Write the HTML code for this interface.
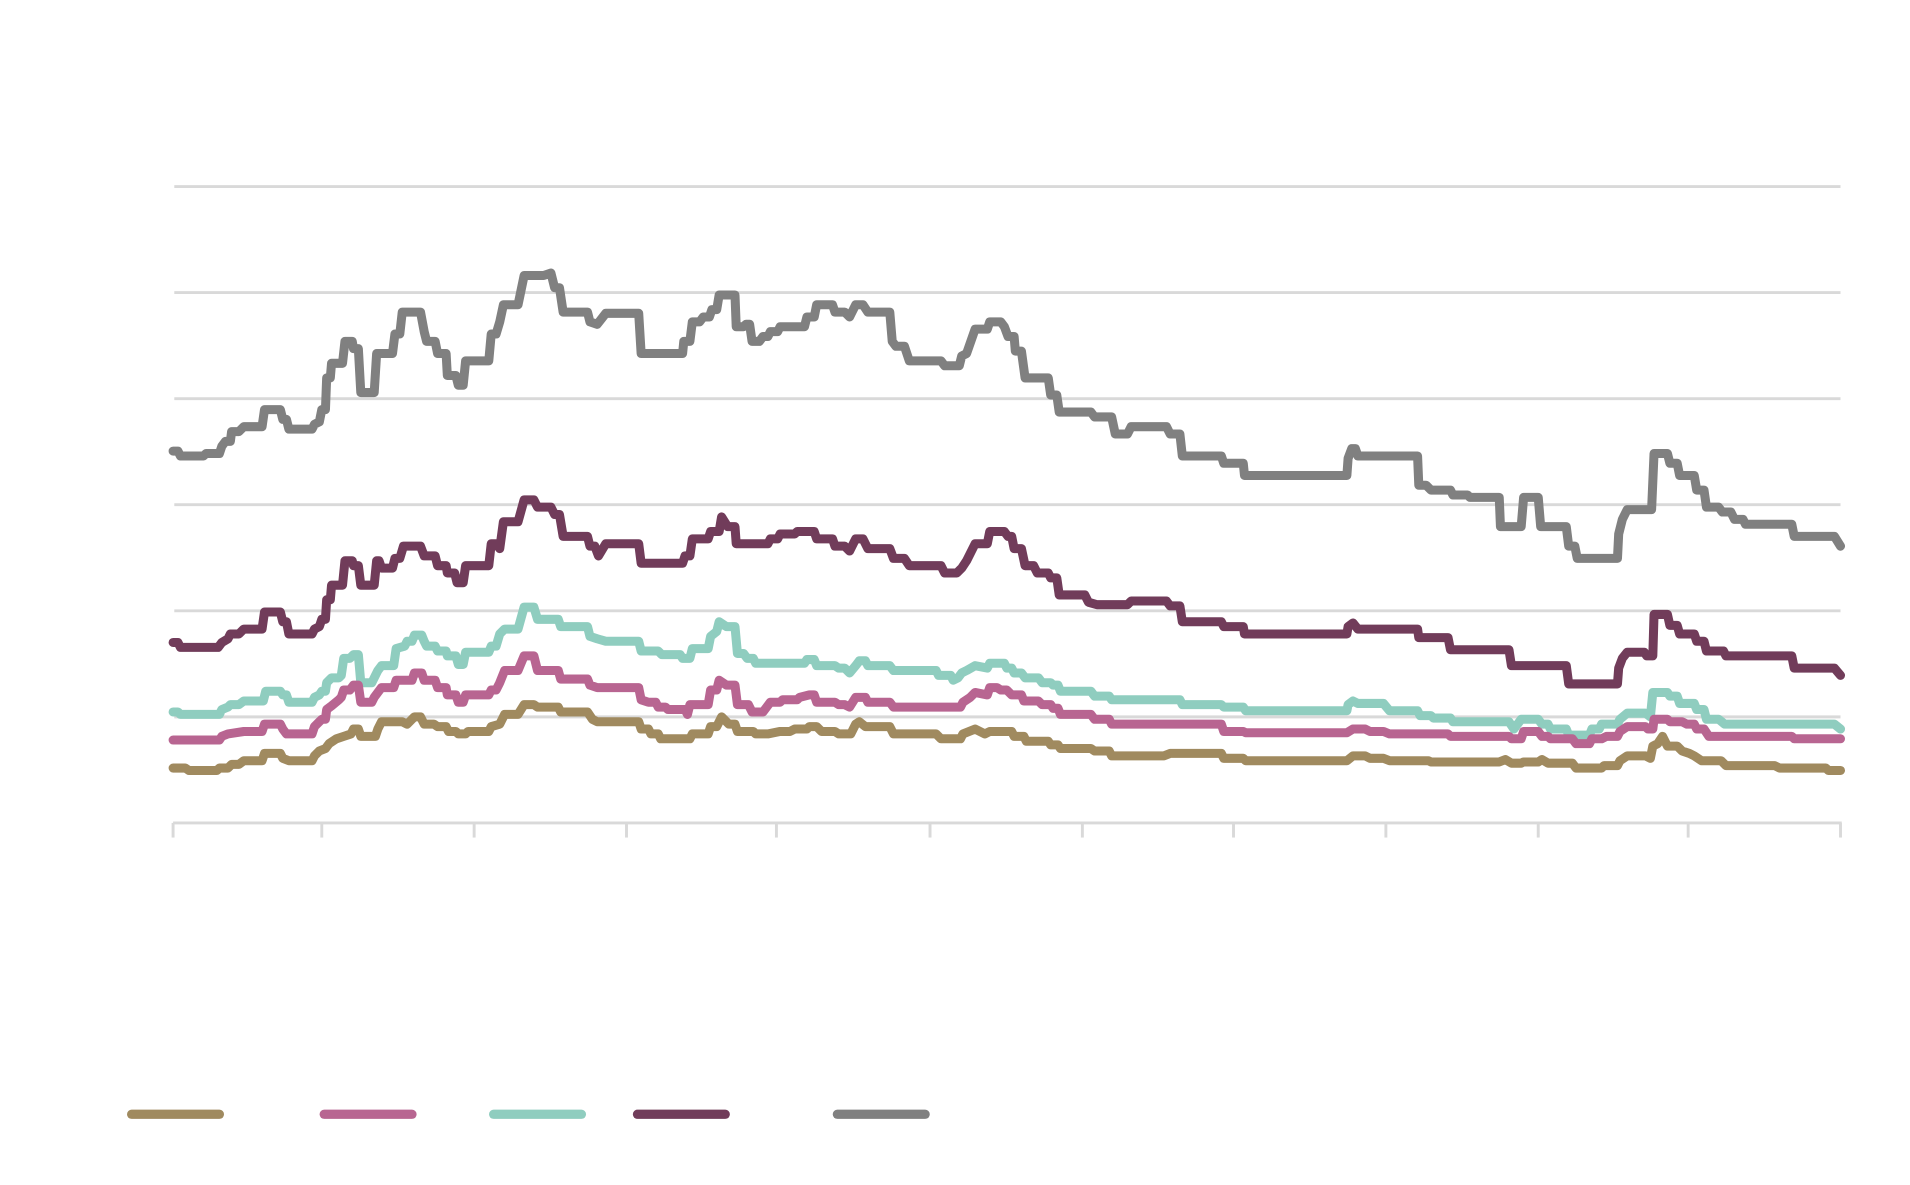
<!DOCTYPE html>
<html><head><meta charset="utf-8"><style>
html,body{margin:0;padding:0;background:#fff;width:1910px;height:1185px;overflow:hidden}
svg{display:block}
.s{fill:none;stroke-width:7.4;stroke-linejoin:round;stroke-linecap:round}
</style></head><body>
<svg width="1910" height="1185" viewBox="0 0 1567 972" preserveAspectRatio="none">
<g stroke="#d9d9d9" stroke-width="2.4">
<line x1="143" y1="153" x2="1510" y2="153"/>
<line x1="143" y1="240" x2="1510" y2="240"/>
<line x1="143" y1="327" x2="1510" y2="327"/>
<line x1="143" y1="414" x2="1510" y2="414"/>
<line x1="143" y1="501" x2="1510" y2="501"/>
<line x1="143" y1="588" x2="1510" y2="588"/>
<line x1="142" y1="675" x2="1511" y2="675"/>
<line x1="142" y1="675" x2="142" y2="687"/><line x1="264" y1="675" x2="264" y2="687"/><line x1="389" y1="675" x2="389" y2="687"/><line x1="514" y1="675" x2="514" y2="687"/><line x1="637" y1="675" x2="637" y2="687"/><line x1="763" y1="675" x2="763" y2="687"/><line x1="888" y1="675" x2="888" y2="687"/><line x1="1012" y1="675" x2="1012" y2="687"/><line x1="1137" y1="675" x2="1137" y2="687"/><line x1="1262" y1="675" x2="1262" y2="687"/><line x1="1385" y1="675" x2="1385" y2="687"/><line x1="1510" y1="675" x2="1510" y2="687"/>
</g>
<polyline class="s" stroke="#808080" points="142,370 146,370 148,374 167,374 169,372 180,372 182,366 185,362 189,362 190,354 196,354 200,350 215,350 217,336 230,336 232,344 235,344 237,352 256,352 258,348 262,346 264,336 267,336 268,310 271,310 272,298 281,298 283,280 289,280 290,286 294,286 296,322 307,322 309,290 322,290 324,274 328,274 330,256 345,256 348,272 350,280 357,280 359,290 366,290 367,308 374,308 376,316 380,316 382,296 401,296 403,274 407,274 410,264 413,250 425,250 430,226 446,226 452,224 455,236 459,236 462,256 482,256 484,264 490,266 497,257 524,257 526,290 560,290 561,280 566,280 568,264 574,264 577,260 582,260 584,254 588,254 590,242 603,242 604,268 610,268 612,266 615,266 617,280 623,280 626,276 630,276 632,272 638,272 640,268 660,268 662,260 668,260 670,250 683,250 685,256 693,256 697,260 702,250 708,250 712,256 730,256 732,280 735,284 742,284 746,296 772,296 775,300 787,300 789,292 793,290 800,270 810,270 812,264 821,264 824,268 827,276 832,276 833,288 838,288 841,310 860,310 862,324 867,324 869,338 895,338 898,342 912,342 915,356 925,356 928,350 957,350 960,356 968,356 970,374 1002,374 1004,380 1020,380 1021,390 1105,390 1106,376 1109,368 1112,368 1114,374 1163,374 1164,398 1170,398 1174,402 1190,402 1192,406 1204,406 1206,408 1230,408 1231,432 1248,432 1250,408 1262,408 1264,432 1285,432 1287,448 1292,448 1294,458 1327,458 1328,438 1331,426 1335,418 1355,418 1357,372 1368,372 1370,380 1376,380 1378,390 1390,390 1392,402 1398,402 1400,416 1410,416 1413,420 1420,420 1423,426 1430,426 1432,430 1470,430 1472,440 1505,440 1510,448"/>
<polyline class="s" stroke="#713c5a" points="142,527 146,527 148,531 179,531 182,527 187,524 189,520 196,520 200,516 215,516 217,502 230,502 232,510 235,510 237,520 256,520 258,516 262,514 264,508 267,508 268,492 271,492 272,480 281,480 283,460 289,460 290,464 294,464 296,480 307,480 309,460 311,460 313,466 322,466 324,458 328,458 331,448 345,448 348,456 357,456 359,464 366,464 367,470 373,470 375,478 380,478 382,464 401,464 403,446 407,446 410,450 413,428 425,428 430,410 438,410 441,416 452,416 455,422 459,422 462,440 482,440 484,448 488,448 491,456 497,446 524,446 526,462 560,462 562,456 566,456 568,442 581,442 583,436 590,436 592,424 597,432 603,432 604,446 630,446 632,442 638,442 640,438 652,438 654,436 668,436 670,442 683,442 685,448 693,448 697,452 702,442 708,442 712,450 730,450 733,458 742,458 746,464 772,464 775,470 785,470 789,466 793,460 800,446 810,446 812,436 824,436 827,440 830,440 832,450 838,450 841,464 848,464 851,470 860,470 862,474 867,474 869,488 890,488 893,494 900,496 925,496 928,493 957,493 960,497 968,497 970,510 1002,510 1004,514 1020,514 1021,520 1105,520 1106,514 1110,511 1114,516 1163,516 1164,523 1188,523 1190,533 1238,533 1240,546 1285,546 1287,561 1327,561 1328,548 1331,540 1335,535 1349,535 1351,538 1356,538 1357,504 1368,504 1370,513 1376,513 1378,520 1390,520 1392,526 1398,526 1400,534 1414,534 1416,538 1470,538 1472,548 1505,548 1510,554"/>
<polyline class="s" stroke="#8fcdbf" points="142,584 146,584 148,586 180,586 182,582 187,580 189,578 196,578 200,575 216,575 218,567 230,567 232,570 235,570 237,576 256,576 258,572 262,570 264,567 267,567 268,560 272,556 278,556 280,554 282,540 287,540 290,537 294,537 296,560 305,560 307,556 310,550 313,546 323,546 325,532 332,530 334,526 338,526 340,521 346,521 348,526 350,530 357,530 359,534 366,534 367,538 374,538 376,545 380,545 382,535 401,535 403,530 407,530 410,520 414,516 425,516 430,498 438,498 441,508 458,508 460,514 482,514 484,522 490,524 497,526 524,526 526,534 540,534 543,537 558,537 560,540 566,540 568,532 581,532 583,522 588,518 590,510 596,514 603,514 605,536 610,536 613,540 618,540 620,544 660,544 662,541 668,541 670,546 685,546 688,548 693,548 697,552 702,546 705,542 710,542 712,546 730,546 733,550 768,550 770,554 780,554 782,558 786,556 789,552 793,550 800,546 810,548 812,544 824,544 826,548 830,548 832,552 838,552 841,556 852,556 855,560 862,560 864,562 868,562 870,567 895,567 898,571 910,571 912,574 968,574 970,578 1002,578 1004,580 1020,580 1022,583 1105,583 1106,578 1110,575 1114,577 1135,577 1140,583 1163,583 1165,587 1174,587 1176,589 1190,589 1192,592 1238,592 1242,598 1248,590 1262,590 1265,594 1270,594 1272,598 1285,598 1287,603 1304,603 1306,598 1312,598 1314,594 1327,594 1329,590 1335,585 1350,585 1354,588 1356,568 1368,568 1370,571 1376,571 1378,577 1390,577 1392,582 1398,582 1400,590 1410,590 1415,594 1505,594 1510,598"/>
<polyline class="s" stroke="#b86591" points="142,607 180,607 182,604 187,602 200,600 215,600 217,594 230,594 232,598 235,602 256,602 258,596 262,592 264,590 267,590 268,582 272,579 278,574 280,572 282,566 287,566 290,562 294,562 296,576 305,576 307,572 310,568 313,564 323,564 325,558 338,558 340,552 346,552 348,558 357,558 359,564 366,564 367,570 374,570 376,576 380,576 382,570 401,570 403,566 407,566 410,560 414,550 425,550 430,538 438,538 441,550 458,550 460,557 482,557 484,562 490,564 524,564 526,574 532,576 538,576 540,580 546,580 548,582 562,582 564,586 566,578 581,578 583,566 588,566 590,558 596,562 603,562 605,578 614,578 617,584 626,584 632,576 640,576 642,574 654,574 656,572 664,570 668,570 670,576 685,576 688,578 693,578 697,580 702,572 710,572 712,576 730,576 733,580 788,580 790,576 796,572 800,568 810,570 812,564 818,564 821,566 826,566 830,570 838,570 840,575 852,575 855,578 862,578 864,581 868,581 870,586 895,586 898,590 910,590 912,594 1002,594 1004,600 1020,600 1022,601 1105,601 1110,598 1120,598 1124,600 1135,600 1140,602 1188,602 1190,604 1238,604 1240,606 1248,606 1250,600 1262,600 1265,604 1270,604 1272,606 1290,606 1293,610 1304,610 1306,606 1314,606 1318,604 1327,604 1329,600 1335,596 1350,596 1352,598 1356,598 1357,590 1368,590 1370,592 1380,592 1384,594 1390,594 1392,598 1398,598 1402,604 1470,604 1472,606 1510,606"/>
<polyline class="s" stroke="#a08a5f" points="142,630 152,630 155,632 178,632 180,630 187,630 190,627 196,627 200,624 215,624 217,618 230,618 232,622 237,624 256,624 258,620 262,616 267,614 270,610 276,606 282,604 288,602 290,598 294,598 296,604 308,604 310,598 313,592 330,592 334,594 340,588 345,588 348,594 356,594 359,596 366,596 368,600 374,600 376,602 382,602 384,600 401,600 403,596 410,594 414,586 425,586 430,578 438,578 441,580 458,580 460,584 482,584 486,590 490,592 524,592 526,598 532,598 534,602 540,602 542,606 566,606 568,602 581,602 583,596 588,596 592,588 598,594 603,594 605,600 618,600 620,602 630,602 640,600 648,600 652,598 662,598 664,596 670,596 674,600 685,600 688,602 698,602 702,594 705,592 710,596 730,596 733,602 768,602 772,606 788,606 790,602 800,598 808,602 812,600 830,600 832,604 840,604 842,608 860,608 862,611 868,611 870,614 895,614 898,616 910,616 912,620 955,620 960,618 1002,618 1004,622 1020,622 1022,624 1105,624 1110,620 1120,620 1124,622 1135,622 1140,624 1172,624 1174,625 1230,625 1235,623 1240,626 1248,626 1250,625 1262,625 1265,623 1270,626 1290,626 1293,630 1314,630 1316,628 1327,628 1329,624 1335,620 1350,620 1354,622 1356,612 1360,610 1364,604 1368,612 1376,612 1380,616 1386,618 1390,620 1396,624 1412,624 1416,628 1456,628 1460,630 1498,630 1500,632 1510,632"/>
<g stroke-width="7.6" stroke-linecap="round">
<line x1="108" y1="914" x2="180" y2="914" stroke="#a08a5f"/>
<line x1="266" y1="914" x2="338" y2="914" stroke="#b86591"/>
<line x1="405" y1="914" x2="477" y2="914" stroke="#8fcdbf"/>
<line x1="523" y1="914" x2="595" y2="914" stroke="#713c5a"/>
<line x1="687" y1="914" x2="759" y2="914" stroke="#808080"/>
</g>
</svg>
</body></html>
